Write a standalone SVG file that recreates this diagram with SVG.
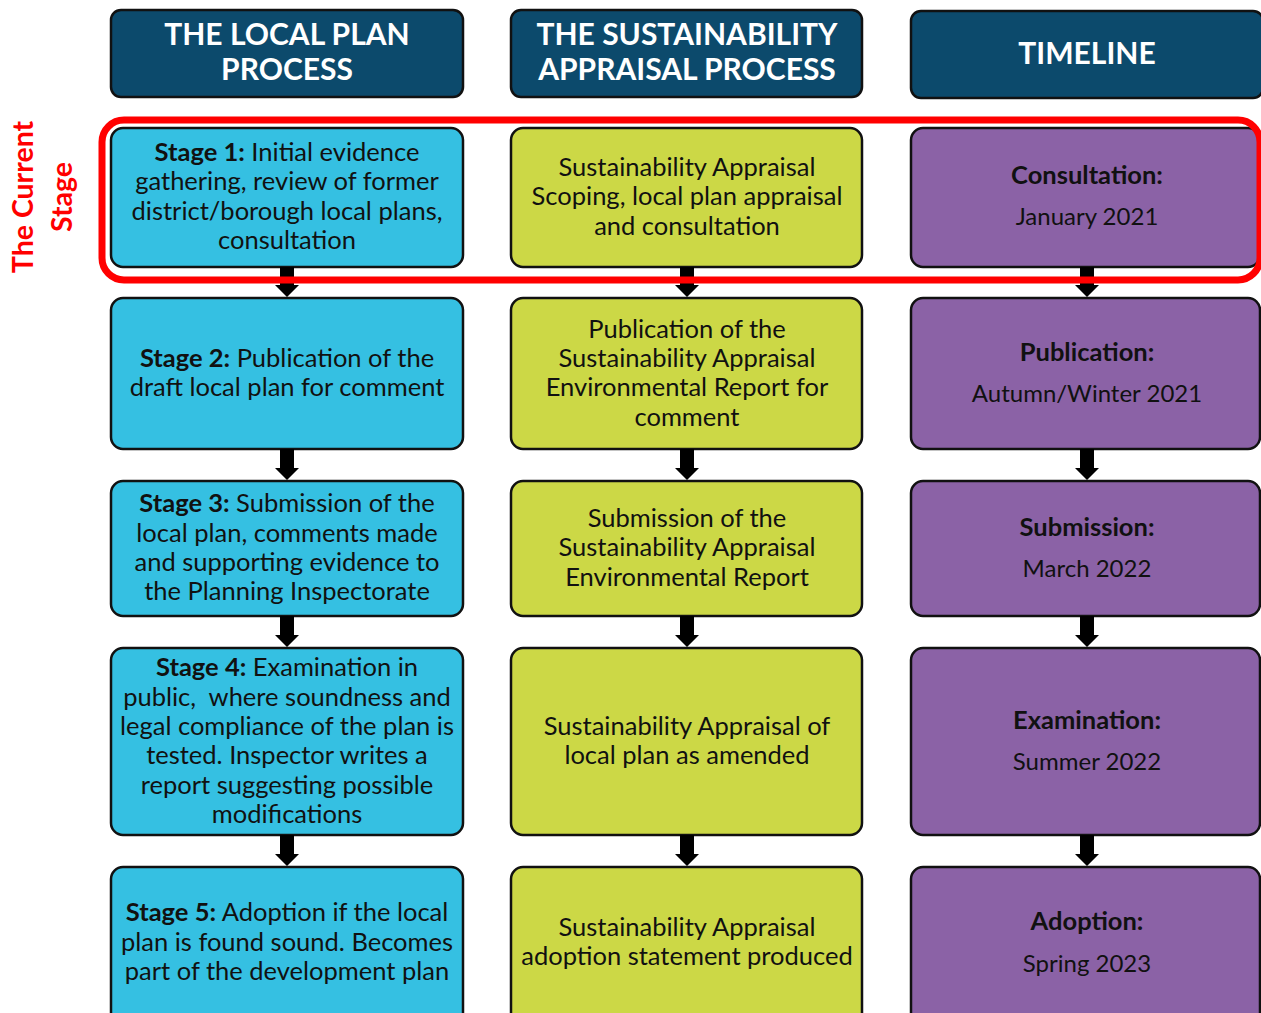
<svg xmlns="http://www.w3.org/2000/svg" width="1261" height="1013" viewBox="0 0 1261 1013">
  <style>
    .box { stroke: #111; stroke-width: 2.5; }
    .hdr { fill: #0c4a6c; }
    .lp { fill: #35c0e2; }
    .sa { fill: #ccd846; }
    .tl { fill: #8b62a6; }
    text { font-family: Lato, "Liberation Sans", sans-serif; font-size: 25.5px; fill: #111; text-anchor: middle; }
    .ht { font-size: 30px; font-weight: bold; fill: #fff; }
    .b { font-weight: bold; }
    .d { font-size: 24px; }
    .side { font-size: 28.5px; font-weight: bold; fill: #ff0000; }
    .arrow { fill: #000; }
  </style>

  <!-- column headers -->
  <g id="header-local-plan">
    <rect class="box hdr" x="111" y="10" width="352" height="87" rx="10"/>
    <text class="ht" x="287" y="45">THE LOCAL PLAN</text>
    <text class="ht" x="287" y="80">PROCESS</text>
  </g>
  <g id="header-sa">
    <rect class="box hdr" x="511" y="10" width="351" height="87" rx="10"/>
    <text class="ht" x="687" y="45">THE SUSTAINABILITY</text>
    <text class="ht" x="687" y="80">APPRAISAL PROCESS</text>
  </g>
  <g id="header-timeline">
    <rect class="box hdr" x="911" y="11" width="352" height="87" rx="10"/>
    <text class="ht" x="1087" y="64">TIMELINE</text>
  </g>

  <!-- local plan column -->
  <g id="lp-stage1">
    <rect class="box lp" x="111" y="128" width="352" height="139" rx="12"/>
    <text x="287" y="161"><tspan class="b">Stage 1:</tspan> Initial evidence</text>
    <text x="287" y="190">gathering, review of former</text>
    <text x="287" y="220">district/borough local plans,</text>
    <text x="287" y="249">consultation</text>
  </g>
  <g id="lp-stage2">
    <rect class="box lp" x="111" y="298" width="352" height="151" rx="12"/>
    <text x="287" y="367"><tspan class="b">Stage 2:</tspan> Publication of the</text>
    <text x="287" y="396">draft local plan for comment</text>
  </g>
  <g id="lp-stage3">
    <rect class="box lp" x="111" y="481" width="352" height="135" rx="12"/>
    <text x="287" y="512"><tspan class="b">Stage 3:</tspan> Submission of the</text>
    <text x="287" y="542">local plan, comments made</text>
    <text x="287" y="571">and supporting evidence to</text>
    <text x="287" y="600">the Planning Inspectorate</text>
  </g>
  <g id="lp-stage4">
    <rect class="box lp" x="111" y="648" width="352" height="187" rx="12"/>
    <text x="287" y="676"><tspan class="b">Stage 4:</tspan> Examination in</text>
    <text x="287" y="706" xml:space="preserve">public,  where soundness and</text>
    <text x="287" y="735">legal compliance of the plan is</text>
    <text x="287" y="764">tested. Inspector writes a</text>
    <text x="287" y="794">report suggesting possible</text>
    <text x="287" y="823">modifications</text>
  </g>
  <g id="lp-stage5">
    <rect class="box lp" x="111" y="867" width="352" height="160" rx="12"/>
    <text x="287" y="921"><tspan class="b">Stage 5:</tspan> Adoption if the local</text>
    <text x="287" y="951">plan is found sound. Becomes</text>
    <text x="287" y="980">part of the development plan</text>
  </g>

  <!-- sustainability appraisal column -->
  <g id="sa-1">
    <rect class="box sa" x="511" y="128" width="351" height="139" rx="12"/>
    <text x="687" y="176">Sustainability Appraisal</text>
    <text x="687" y="205">Scoping, local plan appraisal</text>
    <text x="687" y="235">and consultation</text>
  </g>
  <g id="sa-2">
    <rect class="box sa" x="511" y="298" width="351" height="151" rx="12"/>
    <text x="687" y="338">Publication of the</text>
    <text x="687" y="367">Sustainability Appraisal</text>
    <text x="687" y="396">Environmental Report for</text>
    <text x="687" y="426">comment</text>
  </g>
  <g id="sa-3">
    <rect class="box sa" x="511" y="481" width="351" height="135" rx="12"/>
    <text x="687" y="527">Submission of the</text>
    <text x="687" y="556">Sustainability Appraisal</text>
    <text x="687" y="586">Environmental Report</text>
  </g>
  <g id="sa-4">
    <rect class="box sa" x="511" y="648" width="351" height="187" rx="12"/>
    <text x="687" y="735">Sustainability Appraisal of</text>
    <text x="687" y="764">local plan as amended</text>
  </g>
  <g id="sa-5">
    <rect class="box sa" x="511" y="867" width="351" height="160" rx="12"/>
    <text x="687" y="936">Sustainability Appraisal</text>
    <text x="687" y="965">adoption statement produced</text>
  </g>

  <!-- timeline column -->
  <g id="tl-consultation">
    <rect class="box tl" x="911" y="128" width="349" height="139" rx="12"/>
    <text class="b" x="1087" y="184">Consultation:</text>
    <text class="d" x="1087" y="225">January 2021</text>
  </g>
  <g id="tl-publication">
    <rect class="box tl" x="911" y="298" width="349" height="151" rx="12"/>
    <text class="b" x="1087" y="361">Publication:</text>
    <text class="d" x="1087" y="402">Autumn/Winter 2021</text>
  </g>
  <g id="tl-submission">
    <rect class="box tl" x="911" y="481" width="349" height="135" rx="12"/>
    <text class="b" x="1087" y="536">Submission:</text>
    <text class="d" x="1087" y="577">March 2022</text>
  </g>
  <g id="tl-examination">
    <rect class="box tl" x="911" y="648" width="349" height="187" rx="12"/>
    <text class="b" x="1087" y="729">Examination:</text>
    <text class="d" x="1087" y="770">Summer 2022</text>
  </g>
  <g id="tl-adoption">
    <rect class="box tl" x="911" y="867" width="349" height="160" rx="12"/>
    <text class="b" x="1087" y="930">Adoption:</text>
    <text class="d" x="1087" y="972">Spring 2023</text>
  </g>

  <!-- down arrows between stages -->
  <g id="connectors">
    <polygon class="arrow" points="280,267 294,267 294,285 299,285 287,297 275,285 280,285"/>
    <polygon class="arrow" points="280,449 294,449 294,468 299,468 287,480 275,468 280,468"/>
    <polygon class="arrow" points="280,616 294,616 294,635 299,635 287,647 275,635 280,635"/>
    <polygon class="arrow" points="280,835 294,835 294,854 299,854 287,866 275,854 280,854"/>
    <polygon class="arrow" points="680,267 694,267 694,285 699,285 687,297 675,285 680,285"/>
    <polygon class="arrow" points="680,449 694,449 694,468 699,468 687,480 675,468 680,468"/>
    <polygon class="arrow" points="680,616 694,616 694,635 699,635 687,647 675,635 680,635"/>
    <polygon class="arrow" points="680,835 694,835 694,854 699,854 687,866 675,854 680,854"/>
    <polygon class="arrow" points="1080,267 1094,267 1094,285 1099,285 1087,297 1075,285 1080,285"/>
    <polygon class="arrow" points="1080,449 1094,449 1094,468 1099,468 1087,480 1075,468 1080,468"/>
    <polygon class="arrow" points="1080,616 1094,616 1094,635 1099,635 1087,647 1075,635 1080,635"/>
    <polygon class="arrow" points="1080,835 1094,835 1094,854 1099,854 1087,866 1075,854 1080,854"/>
  </g>

  <!-- current stage highlight -->
  <g id="current-stage">
    <rect x="102" y="120" width="1158" height="160" rx="22" fill="none" stroke="#ff0000" stroke-width="7"/>
    <text class="side" transform="translate(33,197) rotate(-90)">The Current</text>
    <text class="side" transform="translate(72,197) rotate(-90)">Stage</text>
  </g>
</svg>
